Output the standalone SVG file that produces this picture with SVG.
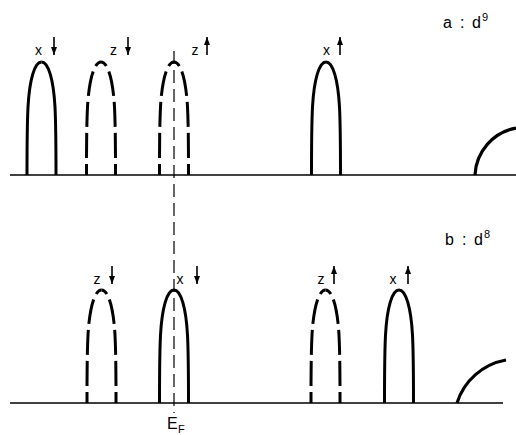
<svg xmlns="http://www.w3.org/2000/svg" width="516" height="435" viewBox="0 0 516 435">
<style>
.peak{fill:none;stroke:#000;stroke-width:3;stroke-linecap:butt}
.dash{stroke-dasharray:7 6 25 6 25 6 25 6 40}
.axis{fill:none;stroke:#000;stroke-width:1.5}
.band{fill:none;stroke:#000;stroke-width:3.2}
.lbl{font-family:"Liberation Sans",Arial,sans-serif;font-size:14px;fill:#000;text-anchor:middle}
.title{font-family:"Liberation Sans",Arial,sans-serif;font-size:16px;fill:#000}
.sup{font-family:"Liberation Sans",Arial,sans-serif;font-size:11px;fill:#000}
.spin{stroke:#000;stroke-width:1.6;fill:none}
.ef{stroke:#000;stroke-width:1.2;stroke-dasharray:13 6;fill:none}
</style>
<defs>
<path id="half" d="M0 0 C-7 0 -12 18 -13.5 45 C-14.5 65 -14.5 90 -14.5 113"/>
<marker id="down" markerWidth="6" markerHeight="8" refX="3" refY="8" markerUnits="userSpaceOnUse" viewBox="0 0 6 8"><path d="M0 0 L6 0 L3 8 Z" fill="#000"/></marker>
<marker id="up" markerWidth="6" markerHeight="8" refX="3" refY="0" markerUnits="userSpaceOnUse" viewBox="0 0 6 8"><path d="M0 8 L6 8 L3 0 Z" fill="#000"/></marker>
</defs>

<g id="connectors">
<line class="axis" x1="10" y1="175" x2="516" y2="175"/>
<line class="axis" x1="10" y1="403" x2="503" y2="403"/>
<line class="ef" x1="174" y1="51" x2="174" y2="413"/>
</g>

<g id="label-a"><text class="title" x="443" y="28">a</text><text class="title" x="460" y="28">:</text><text class="title" x="472" y="28">d</text><text class="sup" x="482" y="21">9</text></g>
<g id="label-b"><text class="title" x="445" y="245">b</text><text class="title" x="462" y="245">:</text><text class="title" x="474" y="245">d</text><text class="sup" x="484" y="238">8</text></g>
<g id="label-EF"><text class="title" x="167" y="429">E</text><text class="sup" x="178" y="433">F</text></g>

<!-- top panel -->
<g id="a-x-down">
<g transform="translate(41.5,62)" class="peak"><use href="#half"/><use href="#half" transform="scale(-1,1)"/></g>
<text class="lbl" x="38.5" y="55">x</text>
<line class="spin" x1="54" y1="37" x2="54" y2="55" marker-end="url(#down)"/>
</g>
<g id="a-z-down">
<g transform="translate(101,62)" class="peak dash"><use href="#half"/><use href="#half" transform="scale(-1,1)"/></g>
<text class="lbl" x="113.5" y="55">z</text>
<line class="spin" x1="128" y1="37" x2="128" y2="55" marker-end="url(#down)"/>
</g>
<g id="a-z-up">
<g transform="translate(174,62)" class="peak dash"><use href="#half"/><use href="#half" transform="scale(-1,1)"/></g>
<text class="lbl" x="195" y="55">z</text>
<line class="spin" x1="207" y1="55" x2="207" y2="37" marker-end="url(#up)"/>
</g>
<g id="a-x-up">
<g transform="translate(326,62)" class="peak"><use href="#half"/><use href="#half" transform="scale(-1,1)"/></g>
<text class="lbl" x="326.5" y="55">x</text>
<line class="spin" x1="340" y1="55" x2="340" y2="37" marker-end="url(#up)"/>
</g>
<g id="a-band"><path class="band" d="M475 175 A50 50 0 0 1 516 128"/></g>

<!-- bottom panel -->
<g id="b-z-down">
<g transform="translate(101.5,290)" class="peak dash"><use href="#half"/><use href="#half" transform="scale(-1,1)"/></g>
<text class="lbl" x="97" y="284">z</text>
<line class="spin" x1="112" y1="266" x2="112" y2="284" marker-end="url(#down)"/>
</g>
<g id="b-x-down">
<g transform="translate(174,290)" class="peak"><use href="#half"/><use href="#half" transform="scale(-1,1)"/></g>
<text class="lbl" x="180" y="284">x</text>
<line class="spin" x1="197" y1="266" x2="197" y2="284" marker-end="url(#down)"/>
</g>
<g id="b-z-up">
<g transform="translate(325.5,290)" class="peak dash"><use href="#half"/><use href="#half" transform="scale(-1,1)"/></g>
<text class="lbl" x="321" y="284">z</text>
<line class="spin" x1="334" y1="284" x2="334" y2="266" marker-end="url(#up)"/>
</g>
<g id="b-x-up">
<g transform="translate(399,290)" class="peak"><use href="#half"/><use href="#half" transform="scale(-1,1)"/></g>
<text class="lbl" x="393" y="284">x</text>
<line class="spin" x1="408" y1="284" x2="408" y2="266" marker-end="url(#up)"/>
</g>
<g id="b-band"><path class="band" d="M457 403 A63 63 0 0 1 506 360"/></g>
</svg>
